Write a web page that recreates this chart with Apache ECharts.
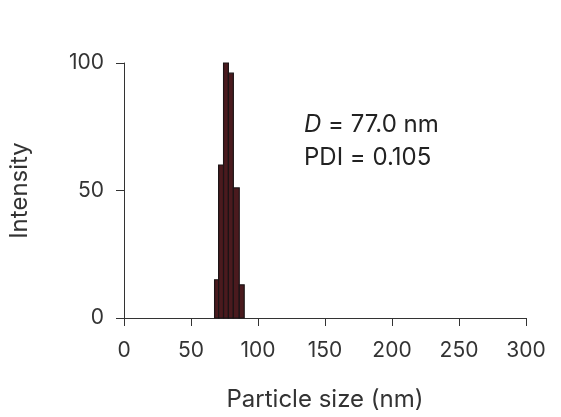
<!DOCTYPE html>
<html><head><meta charset="utf-8">
<script src="https://cdn.jsdelivr.net/npm/echarts@6/dist/echarts.min.js"></script>
<style>html,body{margin:0;padding:0;background:#fff}#c{width:561px;height:417px}</style>
</head><body><div id="c"></div>
<script>
// bin edges (nm) and intensities
var binStart = [67.6, 70.6, 74.3, 77.9, 81.6, 86.0];
var binEnd   = [70.6, 74.3, 77.9, 81.6, 86.0, 89.7];
var intensity = [15, 60, 100, 96, 51, 13];

var data = [];
for (var i = 0; i < intensity.length; i++) data.push([binStart[i], binEnd[i], intensity[i]]);

var chart = echarts.init(document.getElementById('c'));
var font = 'Inter';
chart.setOption({
  animation: false,
  grid: {left: 118, right: 35, top: 63, bottom: 96},
  xAxis: {
    type: 'value', min: 0, max: 300, interval: 50,
    name: 'Particle size (nm)', nameLocation: 'middle', nameGap: 70,
    nameTextStyle: {fontFamily: font, fontSize: 24, color: '#333'},
    axisLine: {lineStyle: {color: '#333'}},
    axisTick: {show: true, length: 8, lineStyle: {color: '#333'}},
    axisLabel: {fontFamily: font, fontSize: 21, color: '#333', margin: 22},
    splitLine: {show: false}
  },
  yAxis: {
    type: 'value', min: 0, max: 100, interval: 50,
    name: 'Intensity', nameLocation: 'middle', nameGap: 92,
    nameTextStyle: {fontFamily: font, fontSize: 24, color: '#333'},
    axisLine: {show: true, lineStyle: {color: '#333'}},
    axisTick: {show: true, length: 8, lineStyle: {color: '#333'}},
    axisLabel: {fontFamily: font, fontSize: 21, color: '#333', margin: 20},
    splitLine: {show: false}
  },
  series: [{
    type: 'custom',
    data: data,
    renderItem: function (params, api) {
      var p0 = api.coord([api.value(0), api.value(2)]);
      var p1 = api.coord([api.value(1), 0]);
      return {
        type: 'rect',
        shape: {x: p0[0], y: p0[1], width: p1[0] - p0[0], height: p1[1] - p0[1]},
        style: {fill: '#4a1a1e', stroke: '#1c1416', lineWidth: 1.2}
      };
    }
  }],
  graphic: [
    {type: 'text', left: 304, top: 113, style: {text: '{i|D} = 77.0 nm', rich: {i: {fontStyle: 'italic', fontFamily: font, fontSize: 24, fill: '#222'}}, fontFamily: font, fontSize: 24, fill: '#222'}},
    {type: 'text', left: 304, top: 146, style: {text: 'PDI = 0.105', fontFamily: font, fontSize: 24, fill: '#222'}}
  ]
});
</script></body></html>
